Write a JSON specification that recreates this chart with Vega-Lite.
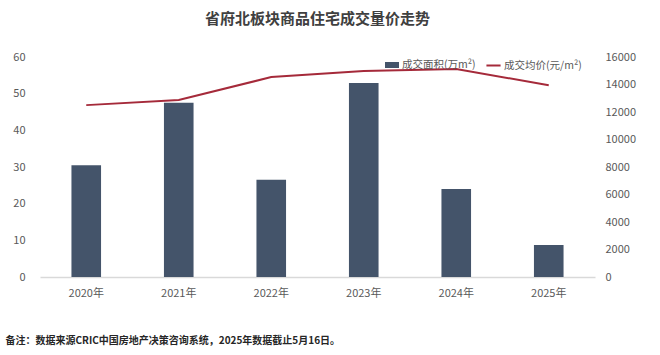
{
  "$schema": "https://vega.github.io/schema/vega-lite/v6.json",
  "width": 555,
  "height": 220,
  "autosize": {"type": "none"},
  "padding": {"left": 40, "top": 57, "right": 65, "bottom": 78},
  "background": "white",
  "config": {"view": {"stroke": null}, "font": "Noto Sans CJK SC"},
  "title": {
    "text": "省府北板块商品住宅成交量价走势",
    "font": "Noto Sans CJK SC",
    "fontSize": 15,
    "fontWeight": "bold",
    "color": "#404040",
    "anchor": "middle",
    "offset": 24
  },
  "data": {
    "values": [
      {"year": "2020年", "area": 30.5, "price": 12500},
      {"year": "2021年", "area": 47.5, "price": 12870},
      {"year": "2022年", "area": 26.5, "price": 14540},
      {"year": "2023年", "area": 52.9, "price": 14980},
      {"year": "2024年", "area": 24.0, "price": 15120},
      {"year": "2025年", "area": 8.7, "price": 13950}
    ]
  },
  "encoding": {
    "x": {
      "field": "year",
      "type": "ordinal",
      "scale": {"paddingInner": 0.68, "paddingOuter": 0.34},
      "axis": {
        "labelAngle": 0,
        "ticks": false,
        "domain": true,
        "domainColor": "#d9d9d9",
        "domainWidth": 1.5,
        "labelPadding": 10,
        "labelFontSize": 11,
        "labelColor": "#595959",
        "labelFont": "Noto Sans CJK SC",
        "title": "备注：数据来源CRIC中国房地产决策咨询系统，2025年数据截止5月16日。",
        "titleFont": "Noto Sans CJK SC",
        "titleFontSize": 10,
        "titleFontWeight": "bold",
        "titleColor": "#262626",
        "titleAnchor": "start",
        "titleAlign": "left",
        "titleBaseline": "middle",
        "titleX": -35,
        "titleY": 63
      }
    }
  },
  "layer": [
    {
      "mark": {"type": "bar"},
      "encoding": {
        "y": {
          "field": "area",
          "type": "quantitative",
          "scale": {"domain": [0, 60]},
          "axis": {
            "values": [0, 10, 20, 30, 40, 50, 60],
            "domain": false,
            "ticks": false,
            "grid": false,
            "labelPadding": 15,
            "labelFontSize": 11,
            "labelColor": "#595959",
            "title": null
          }
        },
        "fill": {
          "datum": "成交面积(万m²)",
          "type": "nominal",
          "scale": {"range": ["#44546A"]},
          "legend": {
            "title": null,
            "orient": "none",
            "legendX": 344,
            "legendY": 0,
            "direction": "horizontal",
            "symbolType": "M-1,-0.43H1V0.43H-1Z",
            "symbolSize": 196,
            "labelFontSize": 10.5,
            "labelColor": "#595959",
            "labelOffset": 2
          }
        }
      }
    },
    {
      "mark": {"type": "line", "strokeWidth": 2},
      "encoding": {
        "y": {
          "field": "price",
          "type": "quantitative",
          "scale": {"domain": [0, 16000]},
          "axis": {
            "orient": "right",
            "values": [0, 2000, 4000, 6000, 8000, 10000, 12000, 14000, 16000],
            "format": "d",
            "domain": false,
            "ticks": false,
            "grid": false,
            "labelPadding": 10,
            "labelFontSize": 11,
            "labelColor": "#595959",
            "title": null
          }
        },
        "stroke": {
          "datum": "成交均价(元/m²)",
          "type": "nominal",
          "scale": {"range": ["#A52A3A"]},
          "legend": {
            "title": null,
            "orient": "none",
            "legendX": 445,
            "legendY": 0,
            "direction": "horizontal",
            "symbolType": "stroke",
            "symbolStrokeWidth": 2,
            "symbolSize": 200,
            "labelFontSize": 10.5,
            "labelColor": "#595959",
            "labelOffset": 2
          }
        }
      }
    }
  ],
  "resolve": {"scale": {"y": "independent"}}
}
